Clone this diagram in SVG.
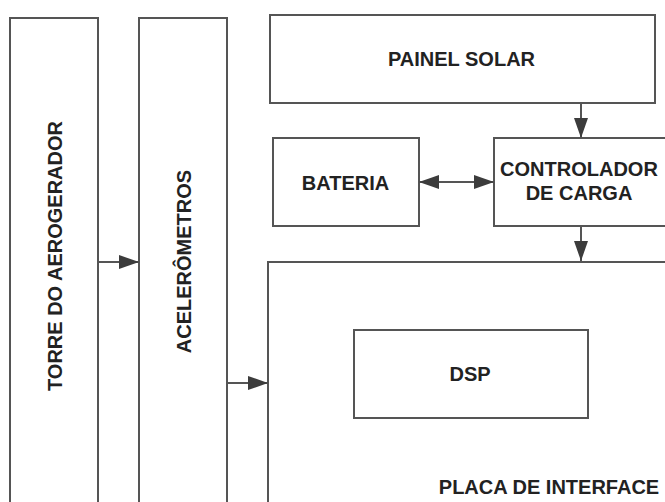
<svg xmlns="http://www.w3.org/2000/svg" width="665" height="502" viewBox="0 0 665 502">
  <style>
    .box { fill: #ffffff; stroke: #555555; stroke-width: 2; }
    .lbl { font-family: "Liberation Sans", Arial, sans-serif; font-weight: bold; font-size: 20px; fill: #222222; text-anchor: middle; }
    .conn { stroke: #555555; stroke-width: 2; fill: none; }
  </style>
  <defs>
    <marker id="ah" viewBox="0 0 20 14" refX="20" refY="7" markerWidth="20" markerHeight="14" markerUnits="userSpaceOnUse" orient="auto-start-reverse">
      <path d="M0,0 L20,7 L0,14 Z" fill="#3c3c3c"/>
    </marker>
  </defs>
  <rect width="665" height="502" fill="#ffffff"/>

  <g id="torre">
    <rect class="box" x="10" y="18" width="88" height="500"/>
    <text class="lbl" transform="translate(61.5,256) rotate(-90)" x="0" y="0">TORRE DO AEROGERADOR</text>
  </g>
  <g id="acelerometros">
    <rect class="box" x="139" y="18" width="88" height="500"/>
    <text class="lbl" transform="translate(190.5,261.5) rotate(-90)" x="0" y="0">ACELERÔMETROS</text>
  </g>
  <g id="painel">
    <rect class="box" x="270" y="15" width="385" height="88"/>
    <text class="lbl" x="461.5" y="65.5">PAINEL SOLAR</text>
  </g>
  <g id="bateria">
    <rect class="box" x="273" y="138" width="146" height="88"/>
    <text class="lbl" x="345.5" y="189.5">BATERIA</text>
  </g>
  <g id="controlador">
    <rect class="box" x="494" y="138" width="176" height="88"/>
    <text class="lbl" x="579" y="176">CONTROLADOR</text>
    <text class="lbl" x="579" y="199.5">DE CARGA</text>
  </g>
  <g id="placa">
    <rect class="box" x="268" y="262" width="420" height="260"/>
    <text class="lbl" x="549" y="493.5">PLACA DE INTERFACE</text>
  </g>
  <g id="dsp">
    <rect class="box" x="354" y="330" width="234" height="88"/>
    <text class="lbl" x="470" y="381">DSP</text>
  </g>

  <g id="connectors">
    <line class="conn" x1="98" y1="262" x2="139" y2="262" marker-end="url(#ah)"/>
    <line class="conn" x1="227" y1="383" x2="268" y2="383" marker-end="url(#ah)"/>
    <line class="conn" x1="581" y1="103" x2="581" y2="138" marker-end="url(#ah)"/>
    <line class="conn" x1="419" y1="182" x2="494" y2="182" marker-start="url(#ah)" marker-end="url(#ah)"/>
    <line class="conn" x1="581" y1="226" x2="581" y2="261" marker-end="url(#ah)"/>
  </g>
</svg>
